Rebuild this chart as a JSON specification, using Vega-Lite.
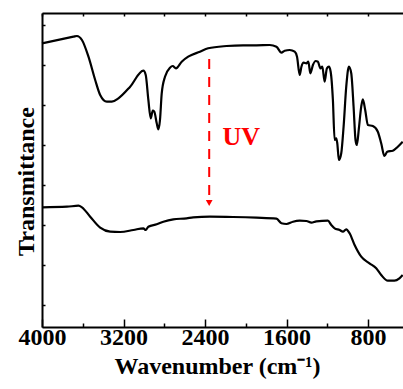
{
  "$schema": "https://vega.github.io/schema/vega-lite/v6.json",
  "width": 361,
  "height": 314,
  "autosize": {"type": "none"},
  "padding": {"left": 42, "top": 13, "right": 0, "bottom": 62},
  "background": "white",
  "config": {
    "view": {"stroke": null},
    "font": "Liberation Serif",
    "axis": {"domainColor": "black", "domainWidth": 2, "tickColor": "black", "tickWidth": 1.5, "grid": false,
             "labelFont": "Liberation Serif", "labelFontWeight": "bold", "labelFontSize": 24, "labelColor": "black",
             "titleFont": "Liberation Serif", "titleFontWeight": "bold", "titleFontSize": 24, "titleColor": "black"}
  },
  "datasets": {
    "spectra": [
      {"wn": 4000, "t": 283.7, "sample": "before"},
      {"wn": 3691, "t": 290.3, "sample": "before"},
      {"wn": 3657, "t": 291, "sample": "before"},
      {"wn": 3608, "t": 287, "sample": "before"},
      {"wn": 3544, "t": 270.3, "sample": "before"},
      {"wn": 3478, "t": 247, "sample": "before"},
      {"wn": 3429, "t": 232, "sample": "before"},
      {"wn": 3364, "t": 225.3, "sample": "before"},
      {"wn": 3315, "t": 225.3, "sample": "before"},
      {"wn": 3250, "t": 228.7, "sample": "before"},
      {"wn": 3135, "t": 240.3, "sample": "before"},
      {"wn": 3005, "t": 256.3, "sample": "before"},
      {"wn": 2982, "t": 252, "sample": "before"},
      {"wn": 2956, "t": 227, "sample": "before"},
      {"wn": 2933, "t": 208.7, "sample": "before"},
      {"wn": 2913, "t": 216.3, "sample": "before"},
      {"wn": 2898, "t": 215.3, "sample": "before"},
      {"wn": 2874, "t": 203.7, "sample": "before"},
      {"wn": 2858, "t": 197.7, "sample": "before"},
      {"wn": 2842, "t": 207, "sample": "before"},
      {"wn": 2825, "t": 233.7, "sample": "before"},
      {"wn": 2793, "t": 250.3, "sample": "before"},
      {"wn": 2744, "t": 259.3, "sample": "before"},
      {"wn": 2717, "t": 261, "sample": "before"},
      {"wn": 2685, "t": 258.7, "sample": "before"},
      {"wn": 2629, "t": 265.3, "sample": "before"},
      {"wn": 2565, "t": 270.3, "sample": "before"},
      {"wn": 2450, "t": 275.3, "sample": "before"},
      {"wn": 2369, "t": 278.7, "sample": "before"},
      {"wn": 2189, "t": 281, "sample": "before"},
      {"wn": 2026, "t": 281.7, "sample": "before"},
      {"wn": 1895, "t": 281.7, "sample": "before"},
      {"wn": 1765, "t": 282, "sample": "before"},
      {"wn": 1699, "t": 280.3, "sample": "before"},
      {"wn": 1650, "t": 274.3, "sample": "before"},
      {"wn": 1618, "t": 276.3, "sample": "before"},
      {"wn": 1569, "t": 277, "sample": "before"},
      {"wn": 1520, "t": 275.3, "sample": "before"},
      {"wn": 1497, "t": 270.3, "sample": "before"},
      {"wn": 1471, "t": 252, "sample": "before"},
      {"wn": 1454, "t": 260.3, "sample": "before"},
      {"wn": 1432, "t": 264.3, "sample": "before"},
      {"wn": 1405, "t": 263.7, "sample": "before"},
      {"wn": 1386, "t": 265.3, "sample": "before"},
      {"wn": 1366, "t": 253.7, "sample": "before"},
      {"wn": 1341, "t": 262, "sample": "before"},
      {"wn": 1314, "t": 266, "sample": "before"},
      {"wn": 1292, "t": 265.3, "sample": "before"},
      {"wn": 1268, "t": 258.7, "sample": "before"},
      {"wn": 1249, "t": 260.3, "sample": "before"},
      {"wn": 1226, "t": 245.3, "sample": "before"},
      {"wn": 1204, "t": 258.7, "sample": "before"},
      {"wn": 1184, "t": 260.3, "sample": "before"},
      {"wn": 1167, "t": 255.3, "sample": "before"},
      {"wn": 1145, "t": 227, "sample": "before"},
      {"wn": 1128, "t": 187, "sample": "before"},
      {"wn": 1112, "t": 188.7, "sample": "before"},
      {"wn": 1102, "t": 183.7, "sample": "before"},
      {"wn": 1086, "t": 167, "sample": "before"},
      {"wn": 1063, "t": 173.7, "sample": "before"},
      {"wn": 1040, "t": 200.3, "sample": "before"},
      {"wn": 1014, "t": 240.3, "sample": "before"},
      {"wn": 988, "t": 260.3, "sample": "before"},
      {"wn": 965, "t": 253.7, "sample": "before"},
      {"wn": 942, "t": 220.3, "sample": "before"},
      {"wn": 923, "t": 187, "sample": "before"},
      {"wn": 910, "t": 182, "sample": "before"},
      {"wn": 890, "t": 198.7, "sample": "before"},
      {"wn": 867, "t": 220.3, "sample": "before"},
      {"wn": 851, "t": 227.7, "sample": "before"},
      {"wn": 828, "t": 217, "sample": "before"},
      {"wn": 802, "t": 202, "sample": "before"},
      {"wn": 753, "t": 201, "sample": "before"},
      {"wn": 704, "t": 195.3, "sample": "before"},
      {"wn": 671, "t": 183.7, "sample": "before"},
      {"wn": 639, "t": 171, "sample": "before"},
      {"wn": 612, "t": 175.3, "sample": "before"},
      {"wn": 557, "t": 176.3, "sample": "before"},
      {"wn": 508, "t": 180.3, "sample": "before"},
      {"wn": 460, "t": 185.3, "sample": "before"},
      {"wn": 4000, "t": 119.7, "sample": "after"},
      {"wn": 3755, "t": 120.3, "sample": "after"},
      {"wn": 3642, "t": 121.3, "sample": "after"},
      {"wn": 3608, "t": 119.7, "sample": "after"},
      {"wn": 3527, "t": 110.3, "sample": "after"},
      {"wn": 3429, "t": 99.3, "sample": "after"},
      {"wn": 3331, "t": 95.3, "sample": "after"},
      {"wn": 3233, "t": 95, "sample": "after"},
      {"wn": 3103, "t": 97, "sample": "after"},
      {"wn": 3005, "t": 98.7, "sample": "after"},
      {"wn": 2982, "t": 97, "sample": "after"},
      {"wn": 2956, "t": 100.3, "sample": "after"},
      {"wn": 2874, "t": 102.7, "sample": "after"},
      {"wn": 2809, "t": 105.3, "sample": "after"},
      {"wn": 2711, "t": 107.7, "sample": "after"},
      {"wn": 2580, "t": 108.7, "sample": "after"},
      {"wn": 2516, "t": 109.7, "sample": "after"},
      {"wn": 2352, "t": 110.3, "sample": "after"},
      {"wn": 2124, "t": 110, "sample": "after"},
      {"wn": 1895, "t": 109.3, "sample": "after"},
      {"wn": 1699, "t": 108.3, "sample": "after"},
      {"wn": 1650, "t": 103.7, "sample": "after"},
      {"wn": 1601, "t": 103, "sample": "after"},
      {"wn": 1537, "t": 105.3, "sample": "after"},
      {"wn": 1471, "t": 106.3, "sample": "after"},
      {"wn": 1405, "t": 106, "sample": "after"},
      {"wn": 1356, "t": 104.3, "sample": "after"},
      {"wn": 1307, "t": 105.7, "sample": "after"},
      {"wn": 1194, "t": 106.3, "sample": "after"},
      {"wn": 1161, "t": 102, "sample": "after"},
      {"wn": 1128, "t": 98.7, "sample": "after"},
      {"wn": 1079, "t": 97, "sample": "after"},
      {"wn": 1047, "t": 95.3, "sample": "after"},
      {"wn": 1014, "t": 97.7, "sample": "after"},
      {"wn": 981, "t": 93.7, "sample": "after"},
      {"wn": 932, "t": 82, "sample": "after"},
      {"wn": 867, "t": 70.3, "sample": "after"},
      {"wn": 786, "t": 63.7, "sample": "after"},
      {"wn": 720, "t": 58.7, "sample": "after"},
      {"wn": 671, "t": 52, "sample": "after"},
      {"wn": 606, "t": 46.3, "sample": "after"},
      {"wn": 541, "t": 46.3, "sample": "after"},
      {"wn": 492, "t": 48.7, "sample": "after"},
      {"wn": 460, "t": 52, "sample": "after"}
    ],
    "arrow": [{"wn": 2359, "t": 268, "t2": 126}],
    "head": [{"wn": 2359, "t": 124}],
    "label": [{"wn": 2044, "t": 182, "text": "UV"}]
  },
  "resolve": {"axis": {"x": "independent"}},
  "layer": [
    {
      "data": {"name": "spectra"},
      "mark": {"type": "line", "color": "black", "strokeWidth": 2.2, "interpolate": "monotone"},
      "encoding": {
        "x": {"field": "wn", "type": "quantitative",
              "scale": {"domain": [4000, 457], "nice": false, "zero": false},
              "axis": {"orient": "bottom", "values": [4000, 3600, 3200, 2800, 2400, 2000, 1600, 1200, 800],
                       "labelExpr": "datum.value % 800 === 0 ? datum.label : ''",
                       "format": "d",
                       "tickSize": {"condition": {"test": "datum.value % 800 === 0", "value": -8}, "value": -4},
                       "labelPadding": 6, "labelFlush": false, "labelOverlap": false,
                       "title": "Wavenumber (cm⁻¹)", "titleX": 175, "titleY": 46, "titleBaseline": "alphabetic", "titleAnchor": null}},
        "y": {"field": "t", "type": "quantitative",
              "scale": {"domain": [0, 314], "nice": false, "zero": false},
              "axis": {"values": [22, 42, 62, 82, 102, 122, 142, 162, 182, 202, 222, 242, 262, 282, 302],
                       "labels": false, "tickSize": -3,
                       "title": "Transmittance", "titleX": -9, "titleY": 168, "titleAngle": -90,
                       "titleBaseline": "alphabetic", "titleAlign": "center"}},
        "detail": {"field": "sample", "type": "nominal"}
      }
    },
    {
      "data": {"name": "arrow"},
      "mark": {"type": "rule", "color": "#ff0000", "strokeWidth": 2, "strokeDash": [10, 8]},
      "encoding": {
        "x": {"field": "wn", "type": "quantitative",
              "axis": {"orient": "top", "values": [4000, 3600, 3200, 2800, 2400, 2000, 1600, 1200, 800],
                       "labels": false, "tickSize": -3, "title": null}},
        "y": {"field": "t", "type": "quantitative"},
        "y2": {"field": "t2"}
      }
    },
    {
      "data": {"name": "head"},
      "mark": {"type": "point", "shape": "triangle-down", "filled": true, "color": "#ff0000", "size": 45, "opacity": 1},
      "encoding": {
        "x": {"field": "wn", "type": "quantitative", "axis": null},
        "y": {"field": "t", "type": "quantitative"}
      }
    },
    {
      "data": {"name": "label"},
      "mark": {"type": "text", "color": "#ff0000", "font": "Liberation Serif", "fontWeight": "bold", "fontSize": 26, "align": "center", "baseline": "alphabetic"},
      "encoding": {
        "x": {"field": "wn", "type": "quantitative", "axis": null},
        "y": {"field": "t", "type": "quantitative"},
        "text": {"field": "text"}
      }
    }
  ]
}
